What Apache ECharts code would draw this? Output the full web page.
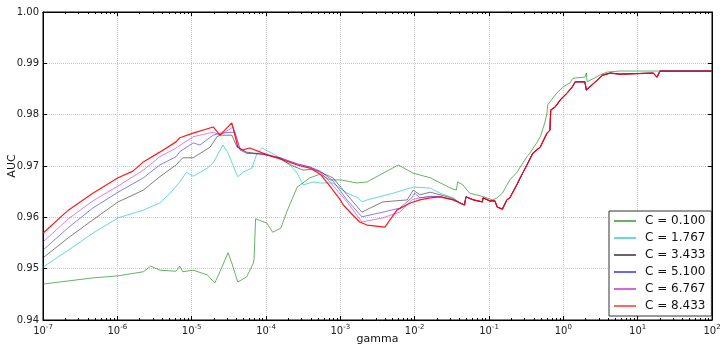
<!DOCTYPE html>
<html>
<head>
<meta charset="utf-8">
<script src="https://cdn.jsdelivr.net/npm/echarts@6/dist/echarts.min.js"></script>
<style>
html,body{margin:0;padding:0;background:#fff;}
#chart{width:722px;height:346px;}
</style>
</head>
<body>
<div id="chart"></div>
<script>
// ---- data (x values are log10(gamma)) ----
const seriesNames = ['C = 0.100', 'C = 1.767', 'C = 3.433', 'C = 5.100', 'C = 6.767', 'C = 8.433'];

const expC0100 = [-7.00,-6.33,-5.99,-5.65,-5.55,-5.43,-5.21,-5.16,-5.12,-4.98,-4.79,-4.69,-4.62,-4.51,-4.46,-4.38,-4.26,-4.17,-4.16,-4.14,-3.99,-3.91,-3.80,-3.72,-3.58,-3.54,-3.41,-3.27,-3.14,-3.00,-2.78,-2.64,-2.22,-2.02,-1.79,-1.52,-1.44,-1.42,-1.35,-1.26,-1.12,-0.95,-0.89,-0.82,-0.72,-0.62,-0.58,-0.49,-0.45,-0.35,-0.31,-0.25,-0.22,-0.21,-0.18,-0.09,0.00,0.09,0.13,0.29,0.31,0.32,0.49,0.59,0.76,2.00];
const aucC0100 = [0.9470,0.9482,0.9486,0.9494,0.9505,0.9497,0.9495,0.9505,0.9494,0.9497,0.9488,0.9472,0.9494,0.9531,0.9511,0.9474,0.9484,0.9511,0.9520,0.9597,0.9589,0.9571,0.9579,0.9611,0.9659,0.9663,0.9677,0.9684,0.9673,0.9673,0.9667,0.9669,0.9702,0.9686,0.9677,0.9657,0.9653,0.9669,0.9663,0.9647,0.9642,0.9634,0.9638,0.9647,0.9673,0.9688,0.9698,0.9718,0.9725,0.9747,0.9757,0.9784,0.9803,0.9819,0.9825,0.9842,0.9854,0.9862,0.9871,0.9873,0.9881,0.9864,0.9877,0.9883,0.9885,0.9885];

const expC1767 = [-7.00,-6.66,-6.33,-5.99,-5.65,-5.43,-5.29,-5.16,-5.07,-4.98,-4.79,-4.71,-4.58,-4.51,-4.38,-4.31,-4.19,-4.12,-4.05,-3.95,-3.81,-3.68,-3.58,-3.50,-3.37,-3.27,-3.10,-2.91,-2.76,-2.71,-2.64,-2.29,-2.02,-1.79,-1.66,-1.48];
const aucC1767 = [0.9503,0.9536,0.9569,0.9599,0.9614,0.9628,0.9647,0.9669,0.9688,0.9680,0.9696,0.9706,0.9741,0.9725,0.9679,0.9688,0.9696,0.9725,0.9735,0.9727,0.9716,0.9702,0.9686,0.9663,0.9669,0.9667,0.9667,0.9647,0.9638,0.9630,0.9634,0.9647,0.9659,0.9657,0.9647,0.9638];

const expC3433 = [-7.00,-6.66,-6.33,-5.99,-5.65,-5.43,-5.21,-5.12,-4.98,-4.75,-4.66,-4.62,-4.46,-4.39,-4.26,-4.04,-3.81,-3.64,-3.50,-3.37,-3.27,-3.10,-2.91,-2.71,-2.60,-2.43,-2.10,-2.02,-1.93,-1.79,-1.56,-1.48];
const aucC3433 = [0.9521,0.9560,0.9595,0.9630,0.9653,0.9679,0.9702,0.9716,0.9716,0.9737,0.9757,0.9760,0.9760,0.9737,0.9727,0.9723,0.9714,0.9700,0.9692,0.9694,0.9688,0.9677,0.9644,0.9610,0.9618,0.9630,0.9634,0.9653,0.9644,0.9649,0.9640,0.9636];

const expC5100 = [-7.00,-6.66,-6.33,-5.99,-5.65,-5.43,-5.21,-5.16,-4.98,-4.89,-4.71,-4.62,-4.42,-4.35,-4.26,-4.04,-3.81,-3.58,-3.41,-3.27,-3.10,-2.91,-2.71,-2.43,-2.20,-2.04,-2.00,-1.93,-1.79,-1.66,-1.48];
const aucC5100 = [0.9536,0.9580,0.9618,0.9649,0.9677,0.9702,0.9718,0.9728,0.9745,0.9741,0.9760,0.9764,0.9766,0.9731,0.9725,0.9723,0.9716,0.9704,0.9698,0.9690,0.9671,0.9634,0.9601,0.9610,0.9618,0.9638,0.9647,0.9638,0.9641,0.9640,0.9634];

const expC6767 = [-7.00,-6.66,-6.33,-5.99,-5.65,-5.43,-5.21,-5.16,-4.98,-4.71,-4.62,-4.44,-4.35,-4.26,-4.04,-3.81,-3.58,-3.41,-3.27,-3.14,-2.91,-2.71,-2.43,-2.20,-2.04,-1.93,-1.79,-1.66,-1.48];
const aucC6767 = [0.9552,0.9597,0.9632,0.9661,0.9692,0.9718,0.9735,0.9740,0.9757,0.9766,0.9760,0.9776,0.9735,0.9725,0.9723,0.9716,0.9704,0.9698,0.9688,0.9669,0.9630,0.9591,0.9599,0.9610,0.9634,0.9638,0.9640,0.9641,0.9634];

const expC8433 = [-7.00,-6.66,-6.33,-5.99,-5.79,-5.65,-5.43,-5.21,-5.16,-4.98,-4.71,-4.62,-4.46,-4.44,-4.38,-4.32,-4.22,-4.04,-3.81,-3.58,-3.41,-3.27,-3.14,-3.00,-2.96,-2.83,-2.74,-2.64,-2.40,-2.24,-2.06,-1.93,-1.79,-1.66,-1.48];
const aucC8433 = [0.9569,0.9614,0.9647,0.9677,0.9690,0.9708,0.9727,0.9747,0.9755,0.9764,0.9776,0.9760,0.9784,0.9786,0.9737,0.9731,0.9735,0.9725,0.9714,0.9702,0.9696,0.9684,0.9661,0.9634,0.9624,0.9604,0.9591,0.9585,0.9581,0.9614,0.9628,0.9634,0.9638,0.9640,0.9634];

// shared high-gamma part, where the curves for C >= 1.767 coincide
const expTail = [-1.39,-1.33,-1.31,-1.21,-1.09,-1.08,-0.99,-0.92,-0.89,-0.82,-0.76,-0.72,-0.62,-0.58,-0.49,-0.41,-0.31,-0.22,-0.18,-0.17,-0.11,-0.04,0.05,0.12,0.16,0.29,0.31,0.40,0.53,0.63,0.76,1.21,1.26,1.30,2.00];
const aucTail = [0.9628,0.9624,0.9640,0.9634,0.9630,0.9638,0.9632,0.9632,0.9620,0.9616,0.9634,0.9638,0.9665,0.9677,0.9702,0.9725,0.9737,0.9764,0.9770,0.9809,0.9815,0.9829,0.9842,0.9854,0.9864,0.9864,0.9848,0.9860,0.9877,0.9881,0.9879,0.9881,0.9873,0.9885,0.9885];

// ---- build ----
function pairs(ex, v) { return ex.map((e, i) => [Math.pow(10, e), v[i]]); }
const seriesData = [
  pairs(expC0100, aucC0100),
  pairs(expC1767.concat(expTail), aucC1767.concat(aucTail)),
  pairs(expC3433.concat(expTail), aucC3433.concat(aucTail)),
  pairs(expC5100.concat(expTail), aucC5100.concat(aucTail)),
  pairs(expC6767.concat(expTail), aucC6767.concat(aucTail)),
  pairs(expC8433.concat(expTail), aucC8433.concat(aucTail))
];
const colors = ['#008000', '#00bfbf', '#000000', '#0000ff', '#bf00bf', '#ff0000'];
const lineOpacity = [0.6, 0.6, 0.5, 0.5, 0.5, 0.9];
const lineWidths = [1, 1, 1, 1, 1, 1.2];

const FONT = 'DejaVu Sans';
const chart = echarts.init(document.getElementById('chart'), null, { renderer: 'canvas' });
chart.setOption({
  animation: false,
  backgroundColor: '#ffffff',
  textStyle: { fontFamily: FONT },
  grid: { left: 43, right: 10, top: 12, bottom: 26, containLabel: false, outerBoundsMode: 'none',
          show: true, borderColor: '#000', borderWidth: 1, backgroundColor: '#fff' },
  xAxis: [{
    type: 'log', logBase: 10, min: 1e-7, max: 1e2, splitNumber: 9,
    name: 'gamma', nameLocation: 'middle', nameGap: 14, nameMoveOverlap: false,
    nameTextStyle: { fontFamily: FONT, fontSize: 11, color: '#111' },
    axisLine: { show: true, lineStyle: { color: '#000', width: 1 } },
    axisTick: { show: true, inside: true, length: 4, lineStyle: { color: '#000' } },
    minorTick: { show: true, splitNumber: 9, length: 2, lineStyle: { color: '#000' } },
    axisLabel: {
      margin: 4, color: '#222', fontFamily: FONT,
      formatter: v => '{b|10}{s|' + Math.round(Math.log10(v)) + '}',
      rich: {
        b: { fontSize: 10, fontFamily: FONT, color: '#222' },
        s: { fontSize: 7, fontFamily: FONT, color: '#222', padding: [0, 0, 7, 0] }
      }
    },
    splitLine: { show: true, lineStyle: { color: '#c8c8c8', type: 'dotted', width: 1 } }
  }, {
    type: 'log', logBase: 10, min: 1e-7, max: 1e2, splitNumber: 9, position: 'top',
    axisLine: { show: true, lineStyle: { color: '#000' } },
    axisTick: { show: true, inside: true, length: 4, lineStyle: { color: '#000' } },
    minorTick: { show: true, splitNumber: 9, length: 2, lineStyle: { color: '#000' } },
    axisLabel: { show: false }, splitLine: { show: false }
  }],
  yAxis: [{
    type: 'value', min: 0.94, max: 1.0, interval: 0.01,
    name: 'AUC', nameLocation: 'middle', nameGap: 25, nameMoveOverlap: false,
    nameTextStyle: { fontFamily: FONT, fontSize: 11, color: '#111' },
    axisLine: { show: true, lineStyle: { color: '#000' } },
    axisTick: { show: true, inside: true, length: 4, lineStyle: { color: '#000' } },
    axisLabel: { margin: 4, fontSize: 10, color: '#222', fontFamily: FONT, formatter: v => v.toFixed(2) },
    splitLine: { show: true, lineStyle: { color: '#c8c8c8', type: 'dotted', width: 1 } }
  }, {
    type: 'value', min: 0.94, max: 1.0, interval: 0.01, position: 'right',
    axisLine: { show: true, lineStyle: { color: '#000' } },
    axisTick: { show: true, inside: true, length: 4, lineStyle: { color: '#000' } },
    axisLabel: { show: false }, splitLine: { show: false }
  }],
  legend: {
    orient: 'vertical', left: 609, top: 211,
    backgroundColor: '#fff', borderColor: '#333', borderWidth: 1, borderRadius: 0,
    padding: [4, 6, 4, 5], itemGap: 5, itemWidth: 22, itemHeight: 2, icon: 'rect',
    itemStyle: { opacity: 0.6 },
    textStyle: { fontFamily: FONT, fontSize: 12, lineHeight: 12, color: '#111', padding: [0, 0, 0, 4] },
    data: seriesNames
  },
  series: seriesNames.map((n, i) => ({
    name: n, type: 'line', data: seriesData[i],
    showSymbol: false, symbol: 'none', smooth: false,
    color: colors[i],
    lineStyle: { width: lineWidths[i], color: colors[i], opacity: lineOpacity[i] },
    emphasis: { disabled: true }
  }))
});
</script>
</body>
</html>
